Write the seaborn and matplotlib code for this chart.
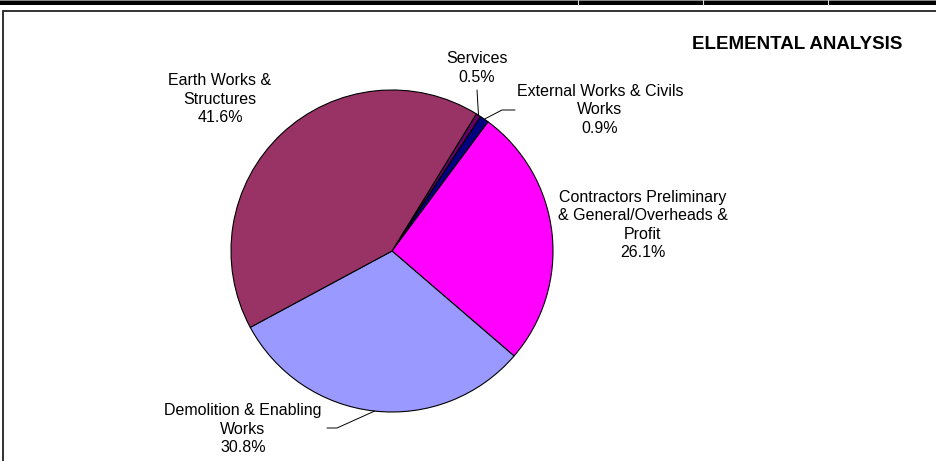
import matplotlib
matplotlib.use("Agg")
import matplotlib.pyplot as plt
import numpy as np
import seaborn as sns

# Cost breakdown by element (percent of total)
categories = [
    "Services",
    "External Works & Civils\nWorks",
    "Contractors Preliminary\n& General/Overheads &\nProfit",
    "Demolition & Enabling\nWorks",
    "Earth Works &\nStructures",
]
shares = [0.5, 0.9, 26.1, 30.8, 41.6]
slice_colors = ["#660066", "#000080", "#FF00FF", "#9999FF", "#993366"]
title_text = "ELEMENTAL ANALYSIS"

sns.set_theme(style="white")
plt.rcParams["font.family"] = ["Liberation Sans", "DejaVu Sans"]

W, H = 937, 461
fig = plt.figure(figsize=(W / 100, H / 100), dpi=100)
ax = fig.add_axes([0, 0, 1, 1])


def fy(y):
    """Convert a top-down pixel row into the axes' upward y coordinate."""
    return H - y


palette = sns.color_palette(slice_colors)
center = (392, fy(251))
radius = 161
first_edge = 31.6  # degrees clockwise from 12 o'clock

wedges, _ = ax.pie(
    shares,
    colors=palette,
    startangle=90 - first_edge,
    counterclock=False,
    center=center,
    radius=radius,
    normalize=True,
    wedgeprops=dict(edgecolor="black", linewidth=0.8),
)
ax.set_xlim(0, W)
ax.set_ylim(0, H)
ax.set_aspect("auto")
ax.axis("off")


def edge_point(w):
    mid = np.deg2rad((w.theta1 + w.theta2) / 2)
    return center[0] + radius * np.cos(mid), center[1] + radius * np.sin(mid)


# data labels: (x centre, y centre of text block) and optional leader path
label_pos = [
    (477, 68),
    (600, 110),
    (643, 225),
    (243, 429),
    (220, 99),
]
leaders = {
    0: [(477, 90)],
    1: [(515, 110), (502, 110)],
    3: [(327, 428), (337, 428)],
}

for i, (name, val) in enumerate(zip(categories, shares)):
    lx, ly = label_pos[i]
    ax.text(lx, fy(ly), f"{name}\n{val:.1f}%", ha="center", va="center",
            fontsize=11.5, color="black", linespacing=1.3)
    if i in leaders:
        pts = [(x, fy(y)) for x, y in leaders[i]]
        pts.append(edge_point(wedges[i]))
        xs, ys = zip(*pts)
        ax.plot(xs, ys, color="black", linewidth=0.7)

ax.text(797, fy(45), title_text, ha="center", va="center",
        fontsize=13.5, fontweight="bold", color="black")

# chart frame (continues past the right and bottom edges)
ax.plot([3.5, 3.5, W + 5], [-5, fy(11), fy(11)], color="#222222",
        linewidth=1.3, solid_joinstyle="miter", clip_on=False)

# strip of the table row above the chart
ax.axhspan(fy(1.2), fy(5), color="black", linewidth=0)
ax.axhspan(fy(0), fy(1.2), color="#888888", linewidth=0)
for sx in (578, 703, 828):
    ax.plot([sx, sx], [fy(0), fy(5)], color="#dddddd", linewidth=0.8)

fig.savefig("out.png", dpi=100, facecolor="white")
